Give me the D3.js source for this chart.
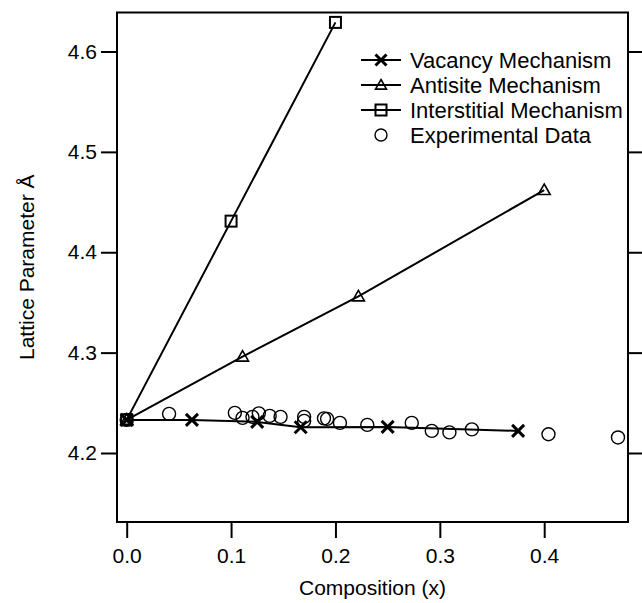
<!DOCTYPE html>
<html>
<head>
<meta charset="utf-8">
<script src="https://cdn.jsdelivr.net/npm/d3@7"></script>
<style>
  body { margin: 0; background: #fff; }
  svg text { font-family: "Liberation Sans", Arial, sans-serif; fill: #000; }
</style>
</head>
<body>
<svg id="chart" width="642" height="603"></svg>
<script>
// series values
const vacancyX = [0, 0.0625, 0.125, 0.1667, 0.25, 0.375];
const vacancyY = [4.233, 4.233, 4.231, 4.2257, 4.226, 4.222];

const antisiteX = [0, 0.111, 0.222, 0.4];
const antisiteY = [4.233, 4.296, 4.356, 4.462];

const interstitialX = [0, 0.1, 0.2];
const interstitialY = [4.233, 4.431, 4.629];

const expX = [0, 0.0406, 0.1036, 0.111, 0.1205, 0.1266, 0.137, 0.1474, 0.170, 0.170,
  0.189, 0.192, 0.2043, 0.2305, 0.2731, 0.2923, 0.3092, 0.3307, 0.4041, 0.4707];
const expY = [4.233, 4.239, 4.240, 4.235, 4.236, 4.2395, 4.237, 4.236, 4.236, 4.232,
  4.2345, 4.234, 4.230, 4.228, 4.230, 4.222, 4.2205, 4.2235, 4.2187, 4.2155];

const xTicks = [0, 0.1, 0.2, 0.3, 0.4];
const yTicks = [4.2, 4.3, 4.4, 4.5, 4.6];
const legendLabels = ['Vacancy Mechanism', 'Antisite Mechanism', 'Interstitial Mechanism', 'Experimental Data'];

const frame = { left: 117, right: 628, top: 12.5, bottom: 522 };

const svg = d3.select('#chart');

const x = d3.scaleLinear().domain([0, 0.4]).range([126.7, 544.2]);
const y = d3.scaleLinear().domain([4.2, 4.6]).range([453, 51.5]);

// axes
svg.append('g')
  .attr('transform', `translate(0,${frame.bottom})`)
  .call(d3.axisBottom(x).tickValues(xTicks).tickSize(16).tickPadding(10).tickFormat(d3.format('.1f')))
  .call(g => g.select('.domain').remove());

svg.append('g')
  .attr('transform', `translate(${frame.left},0)`)
  .call(d3.axisLeft(y).tickValues(yTicks).tickSize(16).tickPadding(4).tickFormat(d3.format('.1f')))
  .call(g => g.select('.domain').remove());

svg.append('g')
  .attr('transform', `translate(${frame.right},0)`)
  .call(d3.axisRight(y).tickValues(yTicks).tickSize(16).tickFormat(''))
  .call(g => g.select('.domain').remove());

svg.selectAll('.tick line').attr('stroke', '#000').attr('stroke-width', 2);
svg.selectAll('.tick text').style('font-size', '21px').attr('fill', '#000');

svg.append('rect')
  .attr('x', frame.left)
  .attr('y', frame.top)
  .attr('width', frame.right - frame.left)
  .attr('height', frame.bottom - frame.top)
  .attr('fill', 'none')
  .attr('stroke', '#000')
  .attr('stroke-width', 2);

// axis titles
svg.append('text')
  .attr('x', (frame.left + frame.right) / 2)
  .attr('y', 595)
  .attr('text-anchor', 'middle')
  .style('font-size', '21px')
  .text('Composition (x)');

svg.append('text')
  .attr('transform', `translate(34,${(frame.top + frame.bottom) / 2}) rotate(-90)`)
  .attr('text-anchor', 'middle')
  .style('font-size', '21px')
  .text('Lattice Parameter Å');

// marker helpers
function drawCross(g, cx, cy, h) {
  g.append('path')
    .attr('d', `M${cx - h},${cy - h}L${cx + h},${cy + h}M${cx - h},${cy + h}L${cx + h},${cy - h}`)
    .attr('stroke', '#000').attr('stroke-width', 3).attr('fill', 'none');
}
function drawTriangle(g, cx, cy, h) {
  g.append('path')
    .attr('d', `M${cx},${cy - h}L${cx + h},${cy + h * 0.75}L${cx - h},${cy + h * 0.75}Z`)
    .attr('stroke', '#000').attr('stroke-width', 1.6).attr('fill', 'none');
}
function drawSquare(g, cx, cy, h) {
  g.append('rect')
    .attr('x', cx - h).attr('y', cy - h).attr('width', 2 * h).attr('height', 2 * h)
    .attr('stroke', '#000').attr('stroke-width', 2).attr('fill', 'none');
}
function drawCircle(g, cx, cy, r) {
  g.append('circle')
    .attr('cx', cx).attr('cy', cy).attr('r', r)
    .attr('stroke', '#000').attr('stroke-width', 1.4).attr('fill', 'none');
}

const line = d3.line().x(d => x(d[0])).y(d => y(d[1]));
const plot = svg.append('g');

function drawSeries(xs, ys, marker, size) {
  const pts = xs.map((v, i) => [v, ys[i]]);
  plot.append('path')
    .datum(pts)
    .attr('d', line)
    .attr('fill', 'none')
    .attr('stroke', '#000')
    .attr('stroke-width', 2);
  pts.forEach(p => marker(plot, x(p[0]), y(p[1]), size));
}

drawSeries(interstitialX, interstitialY, drawSquare, 5.5);
drawSeries(antisiteX, antisiteY, drawTriangle, 6);
drawSeries(vacancyX, vacancyY, drawCross, 6);

expX.forEach((v, i) => drawCircle(plot, x(v), y(expY[i]), 6.5));

// legend
const legend = svg.append('g');
const markers = [drawCross, drawTriangle, drawSquare, null];
legendLabels.forEach((label, i) => {
  const cy = 60 + i * 25;
  if (markers[i]) {
    legend.append('line')
      .attr('x1', 361).attr('x2', 401)
      .attr('y1', cy).attr('y2', cy)
      .attr('stroke', '#000').attr('stroke-width', 2);
    markers[i](legend, 381, cy, 5.5);
  } else {
    drawCircle(legend, 381, cy, 6);
  }
  legend.append('text')
    .attr('x', 410)
    .attr('y', cy)
    .attr('dy', '0.35em')
    .style('font-size', '22px')
    .text(label);
});
</script>
</body>
</html>
